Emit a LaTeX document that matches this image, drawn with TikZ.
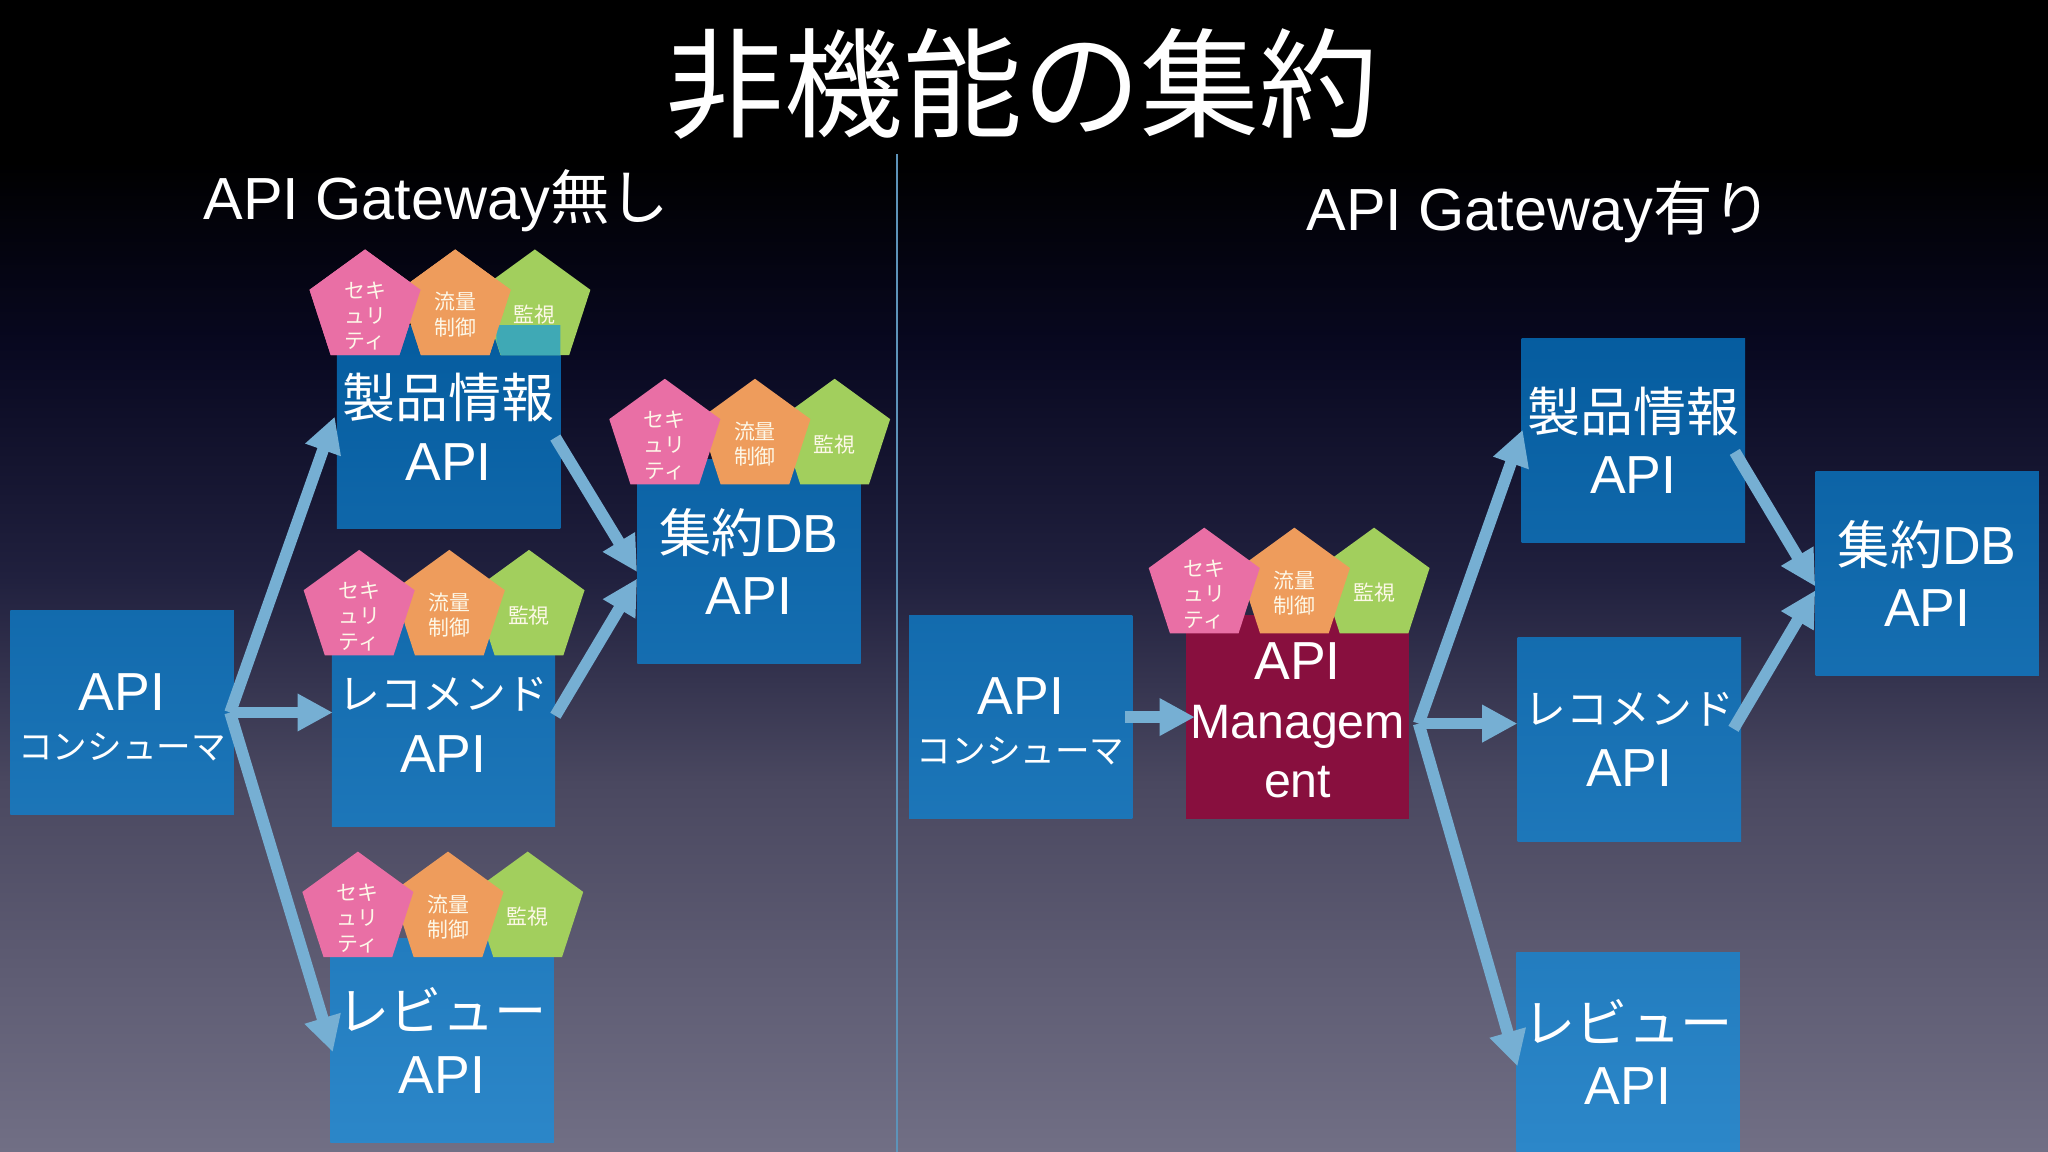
\documentclass[tikz,border=0pt]{standalone}
\usepackage{fontspec}
\setmainfont{Liberation Sans}
\newfontfamily\cjk{Noto Sans CJK JP}
\usetikzlibrary{shapes.geometric,arrows.meta,calc}
\definecolor{boxlo}{HTML}{055C9F}
\definecolor{boxhi}{HTML}{2C87C9}
\definecolor{pinkp}{HTML}{E96FA5}
\definecolor{orangep}{HTML}{EE9C5C}
\definecolor{greenp}{HTML}{A2CF5D}
\definecolor{tealp}{HTML}{3FA9B5}
\definecolor{arrowc}{HTML}{76AFD3}
\definecolor{mgmt}{HTML}{880F3E}
\definecolor{divc}{HTML}{5D93B9}
\definecolor{ptext}{HTML}{FDF8E8}
\definecolor{bga}{HTML}{716F85}
\definecolor{bgb}{HTML}{4A4860}
\definecolor{bgc}{HTML}{20203E}
\definecolor{bgd}{HTML}{080820}
\pgfdeclareverticalshading{slidebg}{100bp}{
 color(0bp)=(bga);
 color(25bp)=(bga);
 color(41bp)=(bgb);
 color(50bp)=(bgc);
 color(60bp)=(bgd);
 color(68bp)=(black);
 color(100bp)=(black)}
\tikzset{
 x=1pt,y=-1pt,
 blk/.style 2 args={minimum width=171pt,minimum height=156pt,inner sep=0pt,
   top color=boxhi!#1!boxlo,bottom color=boxhi!#2!boxlo,text=white,align=center,
   font=\fontsize{41}{48}\selectfont},
 btxt/.style={text=white,align=center,inner sep=0pt,font=\fontsize{41}{48}\selectfont},
 pent/.style={regular polygon,regular polygon sides=5,minimum size=89.4pt,inner sep=0pt},
 ptxt/.style={text=ptext,align=center,inner sep=0pt,font=\cjk\fontsize{16}{19.5}\selectfont},
 flow/.style={draw=arrowc,line width=9pt,-{Triangle[width=27pt,length=27pt]}},
 heading/.style={text=white,inner sep=0pt,font=\fontsize{45.5}{50}\selectfont},
}
\newcommand{\pgroup}[3]{%
 \node[pent,fill=greenp] (#1g) at (#2+130,#3+44.7) {};
 \node[pent,fill=orangep] (#1o) at (#2+69,#3+44.7) {};
 \node[pent,fill=pinkp] (#1p) at (#2,#3+44.7) {};
 \node[ptxt] (#1pt) at (#2,#3+51) {セキ\\ュリ\\ティ};
 \node[ptxt] (#1ot) at (#2+69,#3+50) {流量\\制御};
 \node[ptxt] (#1gt) at (#2+130,#3+50) {監視};
}
\begin{document}
\begin{tikzpicture}
\useasboundingbox (0,0) rectangle (1568,882);
\shade[shading=slidebg] (0,0) rectangle (1568,882);
\node[text=white,inner sep=0pt,font=\cjk\fontsize{91}{91}\selectfont] (title) at (782.5,64) {非機能の集約};
\coordinate (divtop) at (687,118);
\coordinate (divbot) at (687,882);
\draw[divc,line width=1.5pt] (divtop) -- (divbot);
\node[heading] (hl) at (334,154) {API Gateway{\cjk 無し}};
\node[heading] (hr) at (1178.5,162) {API Gateway{\cjk 有り}};

% left boxes
\node[blk={34}{59}] (consL) at (93.5,545.5) {};
\node[btxt] (consLt) at (93.5,549) {API\\[-10.5pt]{\cjk\fontsize{26.5}{30}\selectfont コンシューマ}};
\node[blk={0}{25}] (prodL) at (343.5,327) {{\cjk\fontsize{40.5}{48}\selectfont 製品情報}\\API};
\node[blk={36}{61}] (recL) at (339.5,555) {{\cjk\fontsize{32}{48}\selectfont レコメンド}\\API};
\node[blk={74}{99}] (revL) at (338.5,796.5) {{\cjk\fontsize{40}{48}\selectfont レビュー}\\API};
\node[blk={16}{41}] (dbL) at (573.5,430) {{\cjk\fontsize{40}{48}\selectfont 集約}DB\\API};
% right boxes
\node[blk={35}{60}] (consR) at (781.5,549) {};
\node[btxt] (consRt) at (781.5,552.5) {API\\[-10.5pt]{\cjk\fontsize{26.5}{30}\selectfont コンシューマ}};
\node[minimum width=171pt,minimum height=156pt,inner sep=0pt,fill=mgmt] (mg) at (993.5,549) {};
\node[btxt,font=\fontsize{37}{45}\selectfont] (mgt) at (993.5,551.5) {\fontsize{41}{45}\selectfont API\\Managem\\ent};
\node[blk={1}{26}] (prodR) at (1250.5,337) {{\cjk\fontsize{40.5}{48}\selectfont 製品情報}\\API};
\node[blk={38}{63}] (recR) at (1247.5,566) {{\cjk\fontsize{32}{48}\selectfont レコメンド}\\API};
\node[blk={76}{100},minimum height=153pt] (revR) at (1246.5,805.5) {{\cjk\fontsize{40}{48}\selectfont レビュー}\\API};
\node[blk={18}{43}] (dbR) at (1475.5,439) {{\cjk\fontsize{40}{48}\selectfont 集約}DB\\API};

% pentagon groups
\pgroup{a}{279.5}{191}
\begin{scope}
 \clip (380,249) rectangle (429,272);
 \path[fill=tealp] (367,222) -- (409.5,191) -- (452,222) -- (435.5,272) -- (383.5,272) -- cycle;
\end{scope}
\node[pent,fill=orangep] (ao2) at (348.5,235.7) {};
\node[ptxt] (ao2t) at (348.5,241) {流量\\制御};
\node[pent,fill=pinkp] (ap2) at (279.5,235.7) {};
\node[ptxt] (ap2t) at (279.5,242) {セキ\\ュリ\\ティ};
\pgroup{b}{509}{290}
\pgroup{c}{275}{421}
\pgroup{d}{274}{652}
\pgroup{e}{922}{404}

% connectors
\coordinate (cout) at ([xshift=-3pt]consL.east);
\coordinate (mgout) at ([xshift=7pt,yshift=-5pt]mg.east);
\draw[flow] (cout) -- ([xshift=-1.5pt,yshift=8pt]prodL.west);
\draw[flow] (cout) -- ([xshift=1pt]recL.west |- cout);
\draw[flow] (cout) -- ([xshift=2pt,yshift=-9pt]revL.west);
\draw[flow] ([xshift=-4pt,yshift=-8pt]prodL.east) -- ([yshift=-8pt]dbL.west);
\draw[flow] ([yshift=7pt]recL.east) -- ([yshift=-13pt]dbL.west);
\draw[flow] ([xshift=-6pt]consR.east) -- ([xshift=7pt]mg.west);
\draw[flow] (mgout) -- ([xshift=1pt,yshift=8pt]prodR.west);
\draw[flow] (mgout) -- (recR.west |- mgout);
\draw[flow] (mgout) -- ([xshift=1pt,yshift=-11pt]revR.west);
\draw[flow] ([xshift=-8pt,yshift=-9pt]prodR.east) -- ([yshift=-10pt]dbR.west);
\draw[flow] ([xshift=-6pt,yshift=8pt]recR.east) -- ([yshift=-13pt]dbR.west);
\end{tikzpicture}
\end{document}
